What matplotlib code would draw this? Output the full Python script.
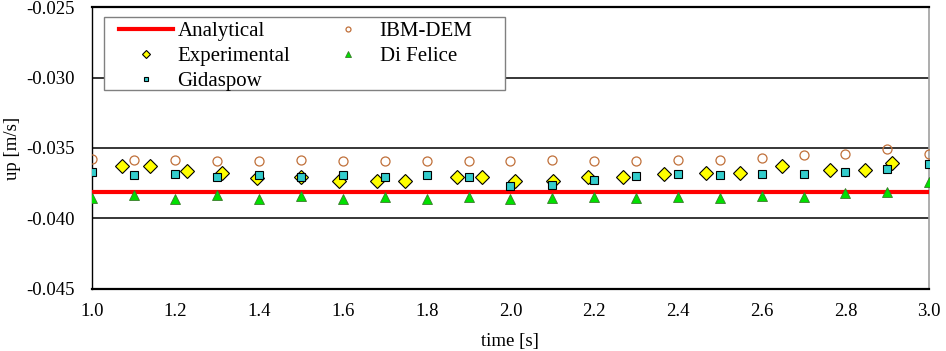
import numpy as np
import matplotlib
matplotlib.use('Agg')
import matplotlib.pyplot as plt
from matplotlib.patches import Rectangle
from matplotlib.ticker import FormatStrFormatter, MultipleLocator

plt.rcParams['font.family'] = 'Liberation Serif'
plt.rcParams['axes.unicode_minus'] = False

# ------------------------------------------------------------------
# data
# ------------------------------------------------------------------
t_sim = np.round(np.arange(1.0, 3.01, 0.1), 1)

analytical = -0.03813

ibm_dem = [-0.03579, -0.03586, -0.03584, -0.03589, -0.03589, -0.03584, -0.03591,
           -0.03593, -0.03589, -0.03591, -0.03593, -0.03586, -0.03591, -0.03591,
           -0.03582, -0.03582, -0.03572, -0.03553, -0.03543, -0.03506, -0.03546]

di_felice = [-0.03852, -0.03833, -0.03859, -0.03835, -0.03859, -0.03840, -0.03859,
             -0.03849, -0.03863, -0.03849, -0.03859, -0.03854, -0.03849, -0.03854,
             -0.03849, -0.03854, -0.03840, -0.03845, -0.03821, -0.03816, -0.03745]

gidaspow = [-0.03674, -0.03695, -0.03686, -0.03703, -0.03695, -0.03705, -0.03695,
            -0.03707, -0.03695, -0.03707, -0.03767, -0.03764, -0.03724, -0.03698,
            -0.03688, -0.03695, -0.03686, -0.03683, -0.03671, -0.03646, -0.03617]

t_exp = [1.072, 1.139, 1.228, 1.312, 1.394, 1.501, 1.591, 1.681, 1.748, 1.872, 1.931,
         2.012, 2.102, 2.185, 2.269, 2.367, 2.466, 2.549, 2.648, 2.763, 2.846, 2.911]
experimental = [-0.03631, -0.03631, -0.03660, -0.03681, -0.03710, -0.03707, -0.03733,
                -0.03735, -0.03735, -0.03707, -0.03707, -0.03733, -0.03733, -0.03707,
                -0.03707, -0.03682, -0.03681, -0.03681, -0.03631, -0.03657, -0.03657,
                -0.03605]

# ------------------------------------------------------------------
# plot
# ------------------------------------------------------------------
fig = plt.figure(figsize=(9.46, 3.51), dpi=100)
ax = fig.add_axes([0.0969, 0.1775, 0.8853, 0.8017])

ax.axhline(analytical, color='#ff0000', lw=3.0, zorder=3, label='Analytical')
ax.plot(t_exp, experimental, ls='none', marker='D', ms=6.8, mfc='#ffff00', mec='black',
        mew=0.8, zorder=4, label='Experimental')
ax.plot(t_sim, gidaspow, ls='none', marker='s', ms=5.5, mfc='#33cccc', mec='black',
        mew=0.8, zorder=5, label='Gidaspow')
ax.plot(t_sim, ibm_dem, ls='none', marker='o', ms=6.5, mfc='none', mec='#c0703a',
        mew=0.9, zorder=4, label='IBM-DEM')
ax.plot(t_sim, di_felice, ls='none', marker='^', ms=7, mfc='#00e000', mec='#3a7a2a',
        mew=0.6, zorder=4, label='Di Felice')

ax.set_xlim(1.0, 3.0)
ax.set_ylim(-0.045, -0.025)
ax.xaxis.set_major_locator(MultipleLocator(0.2))
ax.yaxis.set_major_locator(MultipleLocator(0.005))
ax.xaxis.set_major_formatter(FormatStrFormatter('%.1f'))
ax.yaxis.set_major_formatter(FormatStrFormatter('%.3f'))
ax.tick_params(length=0, labelsize=13.5)
ax.tick_params(axis='x', pad=10)
ax.tick_params(axis='y', pad=12)
ax.grid(axis='y', color='black', lw=1.1)
ax.set_axisbelow(True)

for side in ['top', 'bottom']:
    ax.spines[side].set_linewidth(1.6)
ax.spines['left'].set_linewidth(1.0)
ax.spines['right'].set_color('#a0a0a0')
ax.spines['right'].set_linewidth(1.2)

ax.set_xlabel('time [s]', fontsize=13.5, labelpad=10)
ax.set_ylabel('up [m/s]', fontsize=13.5, labelpad=4)

# legend box drawn separately so it can be wider than its entries
ax.add_patch(Rectangle((0.0147, 0.7061), 0.4789, 0.2594, transform=ax.transAxes,
                       facecolor='white', edgecolor='#808080', lw=1.0, zorder=6))
leg = ax.legend(ncol=2, loc='upper left', bbox_to_anchor=(0.0326, 0.9496),
                borderaxespad=0, borderpad=0, fontsize=15, frameon=False,
                handlelength=2.6, labelspacing=0.27, columnspacing=1.5,
                markerscale=0.55, handletextpad=0.2)
leg.set_zorder(7)

fig.savefig('out.png', dpi=100)
